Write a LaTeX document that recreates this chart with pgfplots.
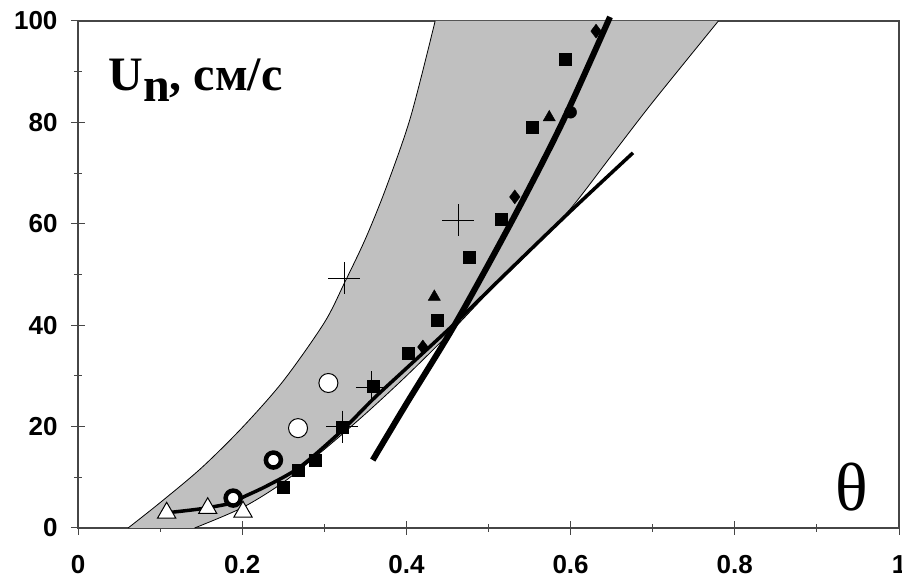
\documentclass[border=0pt]{standalone}
\usepackage{fontspec}
\setmainfont{Liberation Sans}
\newfontfamily\serif{Liberation Serif}
\usepackage{pgfplots}
\pgfplotsset{compat=1.18}
\usepgfplotslibrary{fillbetween}
\definecolor{band}{RGB}{192,192,192}
\definecolor{axisgray}{RGB}{70,70,70}
\begin{document}
\begin{tikzpicture}
\begin{axis}[name=ax,
  scale only axis, width=821pt, height=507pt,
  xmin=0, xmax=1, ymin=0, ymax=100,
  clip=false,
  axis line style={axisgray, line width=1.5pt},
  xtick={0,0.2,0.4,0.6,0.8,1}, xticklabels={0,0.2,0.4,0.6,0.8,1},
  ytick={0,20,40,60,80,100},
  minor xtick={0.1,0.3,0.5,0.7,0.9}, minor ytick={10,30,50,70,90},
  xtick pos=bottom, ytick pos=left,
  tick align=center, major tick length=14pt, minor tick length=8pt,
  tick style={axisgray, line width=1pt},
  ticklabel style={font=\bfseries\fontsize{26}{26}\selectfont, /pgf/number format/assume math mode=true},
  xticklabel style={yshift=-17pt},
  yticklabel style={xshift=-10pt},
]
% band boundaries
\addplot[name path=L, black, line width=0.8pt, smooth] coordinates {
 (0.061,0)(0.1,5)(0.15,11.8)(0.2,19.8)(0.25,29)(0.3,40.5)(0.325,48.5)(0.35,57)(0.375,67)(0.405,81)(0.435,100)};
\addplot[name path=R, black, line width=0.8pt, smooth] coordinates {
 (0.142,0)(0.2,4)(0.25,9)(0.3,15.5)(0.35,22.5)(0.4,30)(0.45,38)(0.5,46.5)(0.55,54.5)(0.6,63)(0.65,73.5)(0.7,84)(0.78,100)};
\addplot[band] fill between[of=L and R];
% model curve
\addplot[black, line width=3.5pt, smooth] coordinates {
 (0.108,3)(0.15,3.8)(0.19,5)(0.2,6)(0.23,8.3)(0.27,12)(0.32,19)(0.36,25.5)(0.40,31.5)(0.46,40.5)(0.52,50)(0.6,62.5)(0.676,74)};
% steep line
\addplot[black, line width=6pt, smooth] coordinates {
 (0.359,13.4)(0.40,24.5)(0.46,40.4)(0.53,61)(0.59,80)(0.648,100.8)};
% markers
\addplot[only marks, mark=triangle*, mark size=10.5pt, mark options={fill=white, draw=black, line width=1pt}] coordinates {
 (0.108,3)(0.158,3.9)(0.201,3.2)};
\addplot[only marks, mark=*, mark size=7.5pt, mark options={fill=white, draw=black, line width=4.5pt}] coordinates {
 (0.189,5.9)(0.238,13.4)};
\addplot[only marks, mark=*, mark size=9.5pt, mark options={fill=white, draw=black, line width=1pt}] coordinates {
 (0.268,19.7)(0.305,28.6)};
\addplot[only marks, mark=square*, mark size=6pt, black] coordinates {
 (0.25,8.1)(0.268,11.4)(0.289,13.4)(0.322,19.9)(0.359,28)(0.402,34.5)(0.437,41)(0.476,53.4)(0.516,61)(0.553,79)(0.594,92.5)};
\addplot[only marks, mark=diamond*, mark size=7pt, black] coordinates {
 (0.42,35.7)(0.532,65.3)(0.631,98)};
\addplot[only marks, mark=triangle*, mark size=7pt, black] coordinates {
 (0.434,45.6)(0.574,81)};
\addplot[only marks, mark=*, mark size=6pt, black] coordinates {
 (0.6,82)};
\addplot[only marks, mark=+, mark size=16pt, mark options={line width=1pt}, black] coordinates {
 (0.324,49.3)(0.463,60.7)(0.358,27.8)(0.322,20)};
\node[anchor=west] at (axis cs:0.033,88.4) {\serif\bfseries\fontsize{48}{48}\selectfont U\raisebox{-11pt}{n}, см/с};
\node at (axis cs:0.943,8.1) {\serif\fontsize{68}{68}\selectfont θ};
\end{axis}
\pgfresetboundingbox
\path ([shift={(-78pt,-50pt)}]ax.south west) rectangle ([shift={(3pt,21pt)}]ax.north east);
\end{tikzpicture}
\end{document}
